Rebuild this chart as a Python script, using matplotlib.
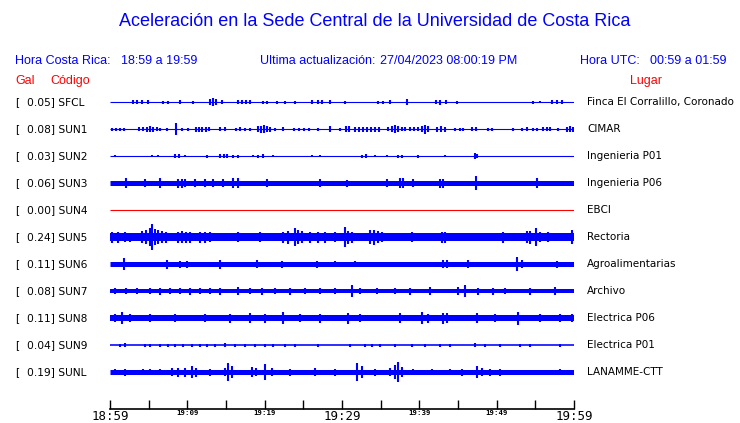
import matplotlib.pyplot as plt
from matplotlib.transforms import blended_transform_factory

# estaciones, aceleracion maxima (Gal) y lugar
codes = ['SFCL', 'SUN1', 'SUN2', 'SUN3', 'SUN4', 'SUN5', 'SUN6', 'SUN7', 'SUN8', 'SUN9', 'SUNL']
gal = [0.05, 0.08, 0.03, 0.06, 0.00, 0.24, 0.11, 0.08, 0.11, 0.04, 0.19]
places = ['Finca El Corralillo, Coronado', 'CIMAR', 'Ingenieria P01', 'Ingenieria P06', 'EBCI',
          'Rectoria', 'Agroalimentarias', 'Archivo', 'Electrica P06', 'Electrica P01', 'LANAMME-CTT']

# nivel de ruido de fondo de cada traza (amplitud relativa)
noise = [0.5, 0.5, 0.5, 2.5, 0.4, 4.0, 2.5, 2.0, 3.0, 0.8, 2.5]

# picos: (minuto desde 18:59, amplitud relativa)
sfcl = [(3.0, 2), (3.5, 2), (4.1, 2), (4.9, 2), (6.9, 1.5), (7.5, 1.5), (9.1, 2), (10.7, 1.5),
        (12.9, 3), (13.3, 4), (13.7, 3), (14.5, 2), (16.6, 2), (17.1, 2), (17.6, 2), (18.1, 2),
        (19.8, 1.5), (20.3, 1.5), (21.6, 1.5), (22.6, 1.5), (23.9, 1.5), (26.1, 2), (26.9, 2),
        (27.4, 2), (28.4, 2), (30.4, 1.5), (34.7, 1.5), (35.3, 1.5), (36.2, 2), (38.4, 3),
        (42.2, 2), (42.7, 2.5), (43.4, 2), (44.9, 1.5), (54.7, 1.5), (55.6, 1), (57.2, 2),
        (57.8, 2), (58.5, 2)]
sun1 = [(0.3, 1.5), (0.8, 1.5), (1.3, 1.5), (1.8, 1.5), (3.7, 2), (4.3, 2), (4.8, 2.5), (5.2, 3),
        (5.6, 2.5), (6.1, 2), (6.5, 1.5), (7.4, 1.5), (8.5, 6), (9.3, 1.5), (10.1, 1.5),
        (11.1, 2.5), (11.5, 2.5), (11.9, 2.5), (12.4, 2.5), (12.8, 2), (14.2, 2), (14.9, 2),
        (16.3, 1.5), (16.8, 2), (17.5, 1.5), (18.1, 1.5), (19.1, 3), (19.5, 3.5), (19.9, 4),
        (20.3, 3), (20.7, 2.5), (21.3, 1.5), (22.4, 2), (23.8, 1.5), (24.4, 1.5), (25.1, 1.5),
        (25.7, 1.5), (26.9, 1.5), (28.4, 3), (29.7, 1.5), (30.5, 3), (30.9, 3), (31.7, 2.5),
        (32.2, 2.5), (32.7, 2.5), (33.2, 2.5), (33.8, 2.5), (34.3, 2.5), (34.8, 2.5), (35.9, 2),
        (36.5, 3), (36.9, 4), (37.2, 3), (37.8, 2), (38.1, 2), (38.8, 2), (39.3, 2), (39.8, 2),
        (40.3, 3), (40.7, 4.5), (41.1, 3), (42.3, 2.5), (42.8, 3), (43.3, 2.5), (44.6, 1.5),
        (45.3, 1.5), (45.6, 1.5), (46.8, 2), (47.3, 2), (48.9, 1.5), (49.4, 1.5), (52.1, 1.5),
        (53.3, 1.5), (53.9, 2), (54.7, 1.5), (55.2, 1.5), (56.0, 2), (56.5, 2), (56.9, 2),
        (57.9, 1.5), (59.1, 2.5), (59.5, 3), (59.9, 2.5)]
sun2 = [(0.6, 1), (5.4, 1), (6.2, 1), (8.4, 2), (8.9, 2), (9.7, 1), (12.5, 1.5), (14.2, 2),
        (14.7, 2), (15.1, 2), (15.9, 1.5), (16.6, 1.5), (18.5, 1), (19.1, 1.5), (19.8, 2),
        (21.1, 1), (26.1, 1), (27.2, 1), (32.6, 1.5), (33.1, 2), (34.3, 1), (35.8, 1),
        (37.2, 1.5), (37.8, 1.5), (39.8, 1.5), (43.3, 1), (47.2, 3), (47.5, 2)]
sun3 = [(2.1, 5), (4.5, 4), (6.5, 5), (8.8, 4.5), (9.3, 4.5), (9.7, 4), (11.0, 4), (12.3, 4),
        (13.3, 4), (14.6, 4), (15.9, 5), (16.6, 5), (20.3, 4), (27.2, 4), (30.6, 3.5),
        (35.8, 4), (37.5, 5), (37.9, 5), (39.2, 4), (42.7, 4.5), (43.1, 4.5), (47.3, 7), (55.2, 5)]
sun4 = []
sun5 = [(0.3, 5.5), (1.0, 5.5), (1.9, 5), (2.6, 4.5), (4.1, 6), (4.7, 7), (5.2, 9), (5.4, 13),
        (5.8, 8), (6.2, 7), (6.7, 6), (7.2, 5.5), (8.8, 5.5), (9.3, 6), (9.8, 5.5), (10.3, 5.5),
        (11.6, 5.5), (12.3, 5.5), (12.9, 5), (16.6, 5), (19.4, 5), (22.4, 5.5), (23.0, 6.5),
        (23.9, 9), (24.3, 7), (24.8, 6), (25.9, 5.5), (26.9, 5.5), (27.8, 5.5), (29.1, 5),
        (30.4, 10), (30.8, 6.5), (31.3, 5.5), (33.6, 7), (34.1, 7.5), (34.7, 6), (35.2, 5),
        (39.1, 5), (42.9, 5.5), (43.3, 5.5), (50.8, 5.5), (53.9, 6), (54.3, 6.5), (55.1, 9),
        (55.6, 5), (56.6, 5), (59.7, 7)]
sun6 = [(1.8, 6), (7.4, 4.5), (9.1, 3.5), (10.0, 3.5), (14.2, 4.5), (19.0, 4), (22.2, 3.5),
        (26.8, 3.5), (29.1, 3), (31.7, 3), (43.1, 4), (43.6, 4), (46.3, 4), (52.6, 7),
        (53.3, 4), (57.8, 3.5)]
sun7 = [(0.6, 3), (2.1, 3), (3.5, 3), (5.2, 3), (6.5, 3.5), (7.8, 3), (9.1, 3), (10.3, 3.5),
        (11.6, 3), (12.9, 3), (14.2, 3.5), (16.6, 4), (18.1, 3), (19.7, 3.5), (21.3, 3),
        (23.3, 3.5), (25.2, 3), (27.2, 3), (29.1, 3), (31.3, 6), (32.3, 3), (34.5, 3),
        (36.9, 3), (38.8, 3.5), (41.4, 4), (45.0, 4), (45.9, 6), (47.6, 3.5), (49.5, 3.5),
        (51.1, 3), (54.3, 3.5), (57.5, 4)]
sun8 = [(0.6, 4), (1.6, 6), (2.6, 4), (5.2, 4), (8.4, 4), (12.3, 4), (15.5, 4.5), (18.1, 5),
        (20.0, 4.5), (22.4, 6), (24.6, 4), (27.2, 4.5), (30.8, 5.5), (32.3, 4), (37.5, 5),
        (40.3, 6), (41.1, 4.5), (43.1, 5.5), (43.6, 5), (47.5, 5), (49.8, 4), (52.8, 6.5),
        (55.6, 4), (58.2, 4), (59.7, 4)]
sun9 = [(1.3, 1.5), (1.9, 2), (4.5, 1.5), (5.2, 1.5), (6.5, 1.5), (7.5, 1.5), (8.4, 1.5),
        (9.4, 1.5), (10.6, 1.5), (11.6, 1.5), (12.5, 1.5), (13.6, 1.5), (14.9, 2), (16.2, 1.5),
        (17.5, 1.5), (18.8, 1.5), (20.0, 1.5), (21.1, 1.5), (22.6, 1.5), (23.9, 1.5),
        (26.9, 1.5), (31.0, 1.5), (33.0, 1.5), (33.9, 1.5), (34.9, 1.5), (36.9, 1.5),
        (39.1, 1.5), (40.7, 1.5), (42.7, 1.5), (44.0, 1.5), (47.2, 2), (48.5, 1.5),
        (50.4, 1.5), (53.0, 1.5), (54.3, 1.5), (58.2, 1.5)]
sunl = [(0.6, 3), (1.9, 3.5), (4.3, 3), (5.2, 3), (6.5, 3), (8.0, 4), (8.8, 4.5), (9.7, 4.5),
        (10.6, 6), (11.1, 4.5), (12.9, 3.5), (14.9, 4), (15.3, 9), (15.8, 6), (18.4, 5),
        (18.9, 4), (20.0, 8), (20.9, 4), (23.3, 3.5), (26.5, 4), (29.1, 3.5), (31.9, 9),
        (32.6, 6), (34.3, 3.5), (36.2, 4), (36.9, 7), (37.3, 10), (37.8, 5), (39.2, 3),
        (41.6, 3), (44.0, 3), (45.5, 3.5), (47.5, 6), (48.1, 4), (49.1, 3.5), (50.4, 3.5),
        (58.2, 3)]
peaks = [sfcl, sun1, sun2, sun3, sun4, sun5, sun6, sun7, sun8, sun9, sunl]

tick_min = list(range(0, 61, 5))
tick_txt = ['18:59', '', '19:09', '', '19:19', '', '19:29', '', '19:39', '', '19:49', '', '19:59']

W, H = 740, 423
fig = plt.figure(figsize=(W / 100, H / 100), dpi=100)

def fx(px):
    return px / W

def fy(py):
    return 1 - py / H

row_px = 27.0
ax = fig.add_axes([fx(110), fy(409), fx(574) - fx(110), fy(90) - fy(409)])
ax.set_xlim(0, 60)
ax.set_ylim((409 - 102) / row_px, -(102 - 90) / row_px)

for i in range(len(codes)):
    col = 'red' if codes[i] == 'SUN4' else 'blue'
    ax.plot([0, 60], [i, i], color=col, lw=max(2 * noise[i] * 0.72, 0.8),
            solid_capstyle='butt')
    if peaks[i]:
        t = [p[0] for p in peaks[i]]
        a = [p[1] / row_px for p in peaks[i]]
        ax.vlines(t, [i - v for v in a], [i + v for v in a], color=col, lw=1.5)

for s in ['left', 'right', 'top']:
    ax.spines[s].set_visible(False)
ax.spines['bottom'].set_linewidth(1.2)
ax.set_yticks([])
ax.set_xticks(tick_min)
ax.set_xticklabels(tick_txt)
ax.tick_params(axis='x', direction='in', length=6.5, width=1, pad=1)
for lab in ax.get_xticklabels():
    lab.set_fontfamily('DejaVu Sans Mono')
    if lab.get_text() in ('18:59', '19:29', '19:59'):
        lab.set_fontsize(9)
    else:
        lab.set_fontsize(5.3)
        lab.set_fontweight('bold')

tr = blended_transform_factory(fig.transFigure, ax.transData)
for i in range(len(codes)):
    ax.text(fx(15), i, '[', transform=tr, fontsize=7.7, va='center', ha='left')
    ax.text(fx(27), i, '%.2f] %s' % (gal[i], codes[i]), transform=tr, fontsize=7.7,
            va='center', ha='left')
    ax.text(fx(587), i, places[i], transform=tr, fontsize=7.5, va='center', ha='left')

arial = 'Liberation Sans'
fig.text(fx(375), fy(22), 'Aceleración en la Sede Central de la Universidad de Costa Rica',
         family=arial, fontsize=13, color='blue', ha='center', va='center')
hdr = dict(family=arial, fontsize=9, color='blue', va='center', ha='left')
fig.text(fx(15), fy(61), 'Hora Costa Rica:', **hdr)
fig.text(fx(121), fy(61), '18:59 a 19:59', **hdr)
fig.text(fx(260), fy(61), 'Ultima actualización:', **hdr)
fig.text(fx(380), fy(61), '27/04/2023 08:00:19 PM', **hdr)
fig.text(fx(580), fy(61), 'Hora UTC:', **hdr)
fig.text(fx(650), fy(61), '00:59 a 01:59', **hdr)
red = dict(family=arial, fontsize=9, color='red', va='center', ha='left')
fig.text(fx(15), fy(81), 'Gal', **red)
fig.text(fx(50), fy(81), 'Código', **red)
fig.text(fx(630), fy(81), 'Lugar', **red)

fig.savefig('out.png', dpi=100)
